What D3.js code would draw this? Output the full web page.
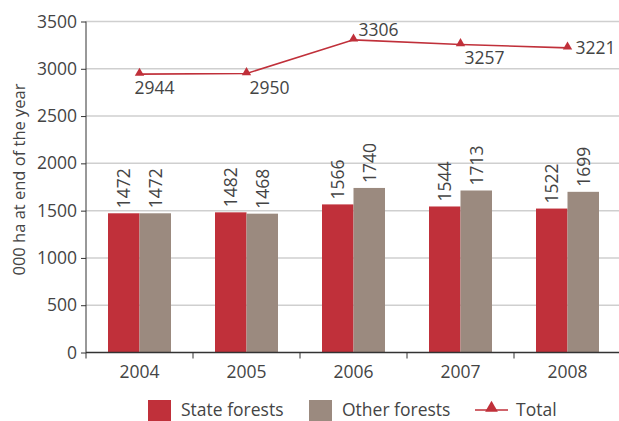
<!DOCTYPE html>
<html>
<head>
<meta charset="utf-8">
<script src="https://cdn.jsdelivr.net/npm/d3@7"></script>
<style>
  body { margin: 0; background: #fff; }
  text { font-family: "Open Sans", sans-serif; fill: #444; }
</style>
</head>
<body>
<div id="frame"></div>
<script>
// data
const years = ["2004", "2005", "2006", "2007", "2008"];
const stateForests = [1472, 1482, 1566, 1544, 1522];
const otherForests = [1472, 1468, 1740, 1713, 1699];
const totals = [2944, 2950, 3306, 3257, 3221];
const yTicks = [0, 500, 1000, 1500, 2000, 2500, 3000, 3500];

const frameWidth = 619;
const frameHeight = 421;
const plotLeft = 86, plotRight = 621, plotTop = 21.5, plotBottom = 352.5;
const fs = "17.5px";

const red = "#c0303a";
const grey = "#9b8a7f";

let svg = d3.select("#frame")
        .append("svg")
        .attr("width", frameWidth)
        .attr("height", frameHeight);

let x0 = d3.scaleBand()
        .domain(years)
        .range([plotLeft, plotRight]);

let x1 = d3.scaleBand()
        .domain(["state", "other"])
        .range([0, 63])
        .padding(0);

let y = d3.scaleLinear()
        .domain([0, 3500])
        .range([plotBottom, plotTop]);

// gridlines
svg.append("g")
    .selectAll("line")
    .data(yTicks.slice(1))
    .enter()
    .append("line")
    .attr("x1", plotLeft)
    .attr("x2", 619)
    .attr("y1", d => y(d))
    .attr("y2", d => y(d))
    .style("stroke", "#cfcfcf")
    .style("stroke-width", "1.5px");

// bars
let barOffset = (x0.bandwidth() - 63) / 2;
let groups = svg.append("g")
    .selectAll("g")
    .data(years)
    .enter()
    .append("g")
    .attr("transform", d => "translate(" + (x0(d) + barOffset) + ",0)");

groups.selectAll("rect")
    .data((d, i) => [
        {key: "state", value: stateForests[i]},
        {key: "other", value: otherForests[i]}
    ])
    .enter()
    .append("rect")
    .attr("x", d => x1(d.key))
    .attr("y", d => y(d.value))
    .attr("width", x1.bandwidth())
    .attr("height", d => y(0) - y(d.value))
    .attr("fill", d => d.key == "state" ? red : grey);

groups.selectAll("text.val")
    .data((d, i) => [
        {key: "state", value: stateForests[i]},
        {key: "other", value: otherForests[i]}
    ])
    .enter()
    .append("text")
    .attr("class", "val")
    .attr("transform", d => "translate(" + (x1(d.key) + x1.bandwidth() / 2 + 6.5) + "," + (y(d.value) - 5) + ") rotate(-90)")
    .style("font-size", fs)
    .text(d => d.value);

// axes
let yAxis = svg.append("g")
    .attr("transform", "translate(" + plotLeft + ",0)")
    .call(d3.axisLeft(y).tickValues(yTicks).tickFormat(d3.format("d")).tickSize(5).tickPadding(4));
yAxis.selectAll("text").style("font-size", fs).style("fill", "#444").style("font-family", "'Open Sans', sans-serif");
yAxis.select(".domain").attr("d", "M0," + plotBottom + "V" + y(3500)).style("stroke", "#333");
yAxis.selectAll(".tick line").style("stroke", "#333");

let xAxis = svg.append("g")
    .attr("transform", "translate(0," + plotBottom + ")")
    .call(d3.axisBottom(x0).tickSize(0).tickPadding(13));
xAxis.selectAll("text").style("font-size", fs).style("fill", "#444").style("font-family", "'Open Sans', sans-serif");
xAxis.select(".domain").attr("d", "M" + plotLeft + ",0H" + plotRight).style("stroke", "#333").style("stroke-width", "1.5px");

// x ticks between categories
svg.append("g")
    .selectAll("line")
    .data(years)
    .enter()
    .append("line")
    .attr("x1", d => x0(d))
    .attr("x2", d => x0(d))
    .attr("y1", plotBottom)
    .attr("y2", plotBottom + 6)
    .style("stroke", "#333");

// total line
let cx = d => x0(d) + x0.bandwidth() / 2;
let line = d3.line()
    .x((d, i) => cx(years[i]))
    .y(d => y(d));

svg.append("path")
    .datum(totals)
    .attr("d", line)
    .attr("fill", "none")
    .style("stroke", red)
    .style("stroke-width", "1.6px");

let tri = d3.symbol().type(d3.symbolTriangle).size(38);
svg.append("g")
    .selectAll("path")
    .data(totals)
    .enter()
    .append("path")
    .attr("d", tri)
    .attr("transform", (d, i) => "translate(" + cx(years[i]) + "," + (y(d) - 1) + ")")
    .attr("fill", red);

// total labels: [dx, dy] relative to point
let totalOffsets = [[-5, 20], [3, 20], [5, -4], [4, 20], [8, 6]];
svg.append("g")
    .selectAll("text")
    .data(totals)
    .enter()
    .append("text")
    .attr("x", (d, i) => cx(years[i]) + totalOffsets[i][0])
    .attr("y", (d, i) => y(d) + totalOffsets[i][1])
    .style("font-size", fs)
    .text(d => d);

// y title
svg.append("text")
    .attr("transform", "rotate(-90)")
    .attr("x", -179.5)
    .attr("y", 25)
    .attr("text-anchor", "middle")
    .style("font-size", "16.5px")
    .text("000 ha at end of the year");

// legend
let legend = svg.append("g");
legend.append("rect").attr("x", 148).attr("y", 400).attr("width", 23).attr("height", 21).attr("fill", red);
legend.append("text").attr("x", 181).attr("y", 416).style("font-size", fs).text("State forests");
legend.append("rect").attr("x", 309).attr("y", 400).attr("width", 23).attr("height", 21).attr("fill", grey);
legend.append("text").attr("x", 342).attr("y", 416).style("font-size", fs).text("Other forests");
legend.append("line").attr("x1", 475).attr("x2", 508).attr("y1", 410).attr("y2", 410)
    .style("stroke", red).style("stroke-width", "1.6px");
legend.append("path").attr("d", d3.symbol().type(d3.symbolTriangle).size(70))
    .attr("transform", "translate(491.5,408)").attr("fill", red);
legend.append("text").attr("x", 516).attr("y", 416).style("font-size", fs).text("Total");
</script>
</body>
</html>
